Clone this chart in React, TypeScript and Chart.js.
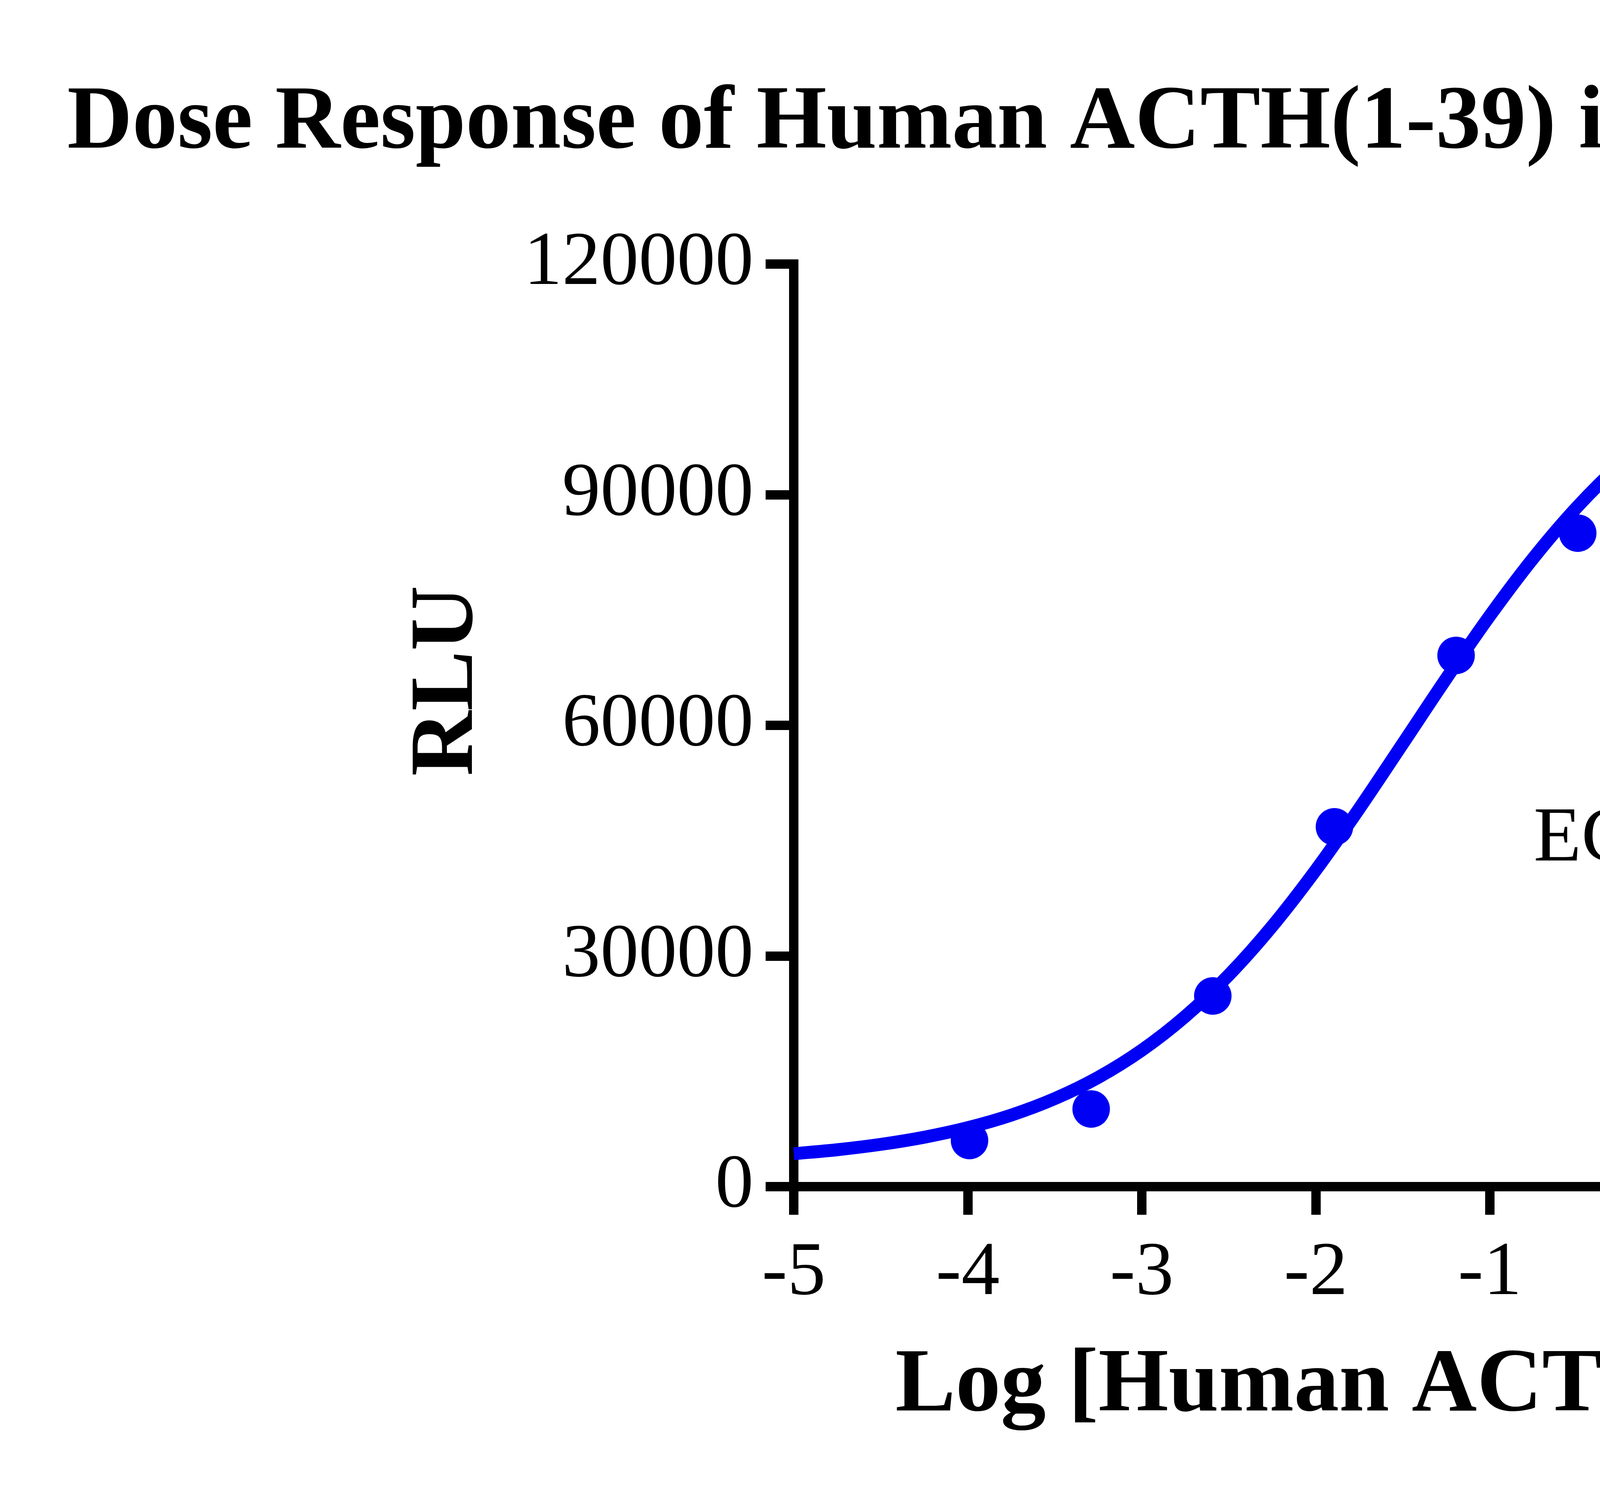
import React, { useEffect, useRef } from 'react';
import { Chart, registerables } from 'chart.js';

Chart.register(...registerables);

// ---- text ----
const TITLE = 'Dose Response of Human ACTH(1-39) in MC2R CRE-Luc CHO（ C16）';
const X_TITLE = 'Log [Human ACTH(1-39)] nM';
const Y_TITLE = 'RLU';
const ANNOTATION = 'EC50 = 0.034 nM';

// ---- measured points (log nM, mean RLU, SD) ----
const doseLog = [-3.99, -3.291, -2.592, -1.893, -1.194, -0.495, 0.204, 0.903, 1.602, 2.301, 3.0];
const meanRLU = [6000, 10100, 24800, 46800, 69100, 85000, 99600, 111000, 111900, 112100, 114300];
const sdRLU = [0, 0, 0, 0, 0, 0, 3400, 0, 0, 0, 0];

// ---- fitted curve ----
const curveLog = [
  -5, -4.75, -4.5, -4.25, -4, -3.75, -3.5, -3.25, -3, -2.75, -2.5, -2.25, -2, -1.75, -1.5, -1.25,
  -1, -0.75, -0.5, -0.25, 0, 0.25, 0.5, 0.75, 1, 1.25, 1.5, 1.75, 2, 2.25, 2.5, 2.75, 3,
];
const curveRLU = [
  4283, 4802, 5499, 6430, 7667, 9304, 11446, 14214, 17742, 22149, 27524, 33890, 41180, 49190, 57630, 66110,
  74256, 81749, 88359, 93984, 98634, 102372, 105322, 107609, 109361, 110690, 111691, 112441, 113001, 113417, 113726, 113954, 114124,
];

// ---- ticks ----
const xTicks = [-5, -4, -3, -2, -1, 0, 1, 2, 3];
const yTicks = [0, 30000, 60000, 90000, 120000];

const BLUE = '#0000F5';
const FONT = '"Liberation Serif", "Times New Roman", serif';

const overlay = {
  id: 'overlay',
  beforeDatasetsDraw(chart: any) {
    const { ctx } = chart;
    const xs = chart.scales.x;
    const ys = chart.scales.y;
    ctx.save();
    ctx.fillStyle = BLUE;
    doseLog.forEach((d, i) => {
      const sd = sdRLU[i];
      if (!sd) return;
      const x = xs.getPixelForValue(d);
      const yTop = ys.getPixelForValue(meanRLU[i] + sd);
      const yBot = ys.getPixelForValue(meanRLU[i] - sd);
      ctx.fillRect(x - 12, yTop, 24, yBot - yTop);
      ctx.fillRect(x - 48, yTop - 12, 97, 24);
      ctx.fillRect(x - 48, yBot - 12, 97, 24);
    });
    ctx.restore();
  },
  afterDraw(chart: any) {
    const { ctx } = chart;
    ctx.save();
    ctx.fillStyle = '#000';
    ctx.font = `bold 231px ${FONT}`;
    ctx.textAlign = 'left';
    ctx.textBaseline = 'alphabetic';
    ctx.fillText(TITLE, 172, 378);
    ctx.textAlign = 'center';
    ctx.fillText(X_TITLE, 3816, 3611);
    ctx.save();
    ctx.translate(1208, 1743);
    ctx.rotate(-Math.PI / 2);
    ctx.textAlign = 'center';
    ctx.fillText(Y_TITLE, 0, 0);
    ctx.restore();
    ctx.font = `200px ${FONT}`;
    ctx.textAlign = 'left';
    ctx.fillText(ANNOTATION, 3926, 2203);
    ctx.restore();
  },
};

export default function App() {
  const ref = useRef<HTMLCanvasElement>(null);

  useEffect(() => {
    const canvas = ref.current;
    if (!canvas) return;
    const gridOpts = {
      display: true,
      drawOnChartArea: false,
      drawTicks: true,
      tickLength: 72,
      tickWidth: 24,
      tickColor: '#000',
      color: '#000',
      lineWidth: 24,
    };
    const chart = new Chart(canvas, {
      type: 'line',
      data: {
        datasets: [
          {
            label: 'mean',
            data: doseLog.map((x, i) => ({ x, y: meanRLU[i] })),
            showLine: false,
            pointRadius: 48,
            pointHoverRadius: 48,
            pointBackgroundColor: BLUE,
            pointBorderWidth: 0,
            borderColor: BLUE,
            backgroundColor: BLUE,
            clip: false,
          } as any,
          {
            label: 'fit',
            data: curveLog.map((x, i) => ({ x, y: curveRLU[i] })),
            borderColor: BLUE,
            borderWidth: 33,
            pointRadius: 0,
            pointHoverRadius: 0,
            fill: false,
            cubicInterpolationMode: 'monotone',
            borderJoinStyle: 'round',
            clip: false,
          } as any,
        ],
      },
      options: {
        responsive: false,
        devicePixelRatio: 1,
        animation: false,
        events: [],
        layout: { padding: { left: 0, top: 676, right: 2004, bottom: 0 } },
        plugins: {
          legend: { display: false },
          tooltip: { enabled: false },
          title: { display: false },
        },
        scales: {
          x: {
            type: 'linear',
            min: -5,
            max: 3,
            afterBuildTicks: (s: any) => {
              s.ticks = xTicks.map((v) => ({ value: v }));
            },
            afterFit: (s: any) => {
              s.height = 792;
            },
            grid: gridOpts as any,
            border: { display: true, color: '#000', width: 24 },
            ticks: {
              color: '#000',
              padding: 34,
              maxRotation: 0,
              autoSkip: false,
              font: { family: FONT, size: 196 },
              callback: (v: any) => String(v),
            },
          },
          y: {
            type: 'linear',
            min: 0,
            max: 120000,
            afterBuildTicks: (s: any) => {
              s.ticks = yTicks.map((v) => ({ value: v }));
            },
            afterFit: (s: any) => {
              s.width = 2032;
            },
            grid: gridOpts as any,
            border: { display: true, color: '#000', width: 24 },
            ticks: {
              color: '#000',
              padding: 31,
              autoSkip: false,
              font: { family: FONT, size: 196 },
              callback: (v: any) => String(v),
            },
          },
        },
      },
      plugins: [overlay],
    });
    return () => chart.destroy();
  }, []);

  return (
    <div style={{ position: 'absolute', left: 0, top: 0, width: 7600, height: 3830, background: '#fff' }}>
      <canvas ref={ref} width={7600} height={3830} style={{ width: 7600, height: 3830, display: 'block' }} />
    </div>
  );
}
